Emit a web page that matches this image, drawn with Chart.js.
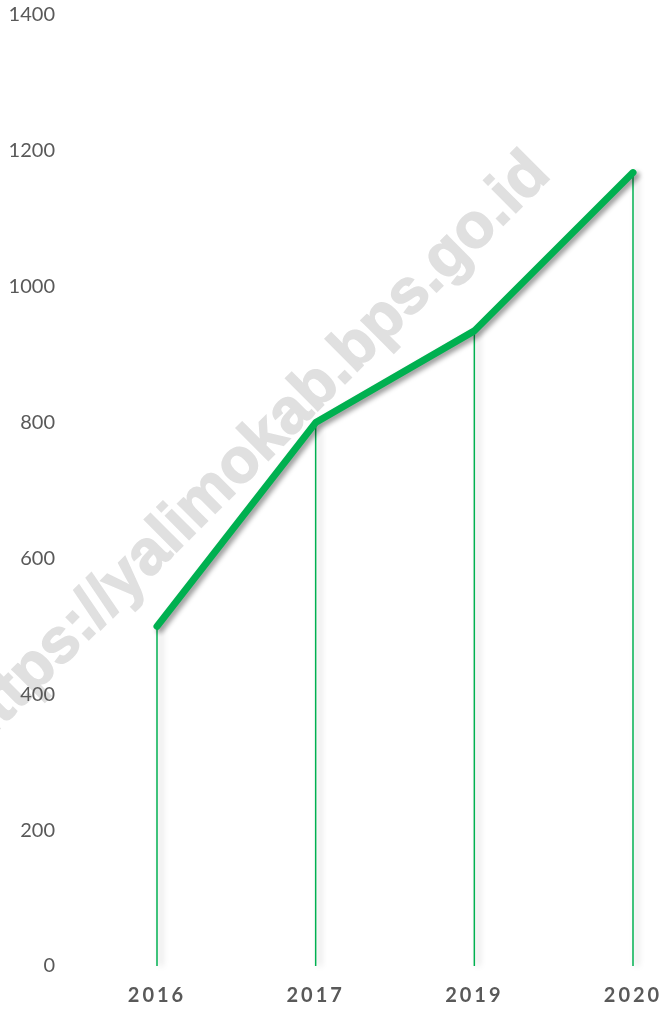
<!DOCTYPE html>
<html>
<head>
<meta charset="utf-8">
<script src="https://cdn.jsdelivr.net/npm/chart.js@4"></script>
<style>
  html, body { margin: 0; padding: 0; background: #fff; overflow: hidden; }
  canvas { display: block; }
</style>
</head>
<body>
<canvas id="chart" width="662" height="1009"></canvas>
<script>
    const years = ['2016', '2017', '2019', '2020'];
    const values = [500, 800, 935, 1168];
    const yTicks = [0, 200, 400, 600, 800, 1000, 1200, 1400];
    const watermark = 'https://yalimokab.bps.go.id';

    const green = '#00B050';
    const grey = '#595959';

    // faint rotated site stamp, under everything
    const watermarkPlugin = {
      id: 'watermark',
      beforeDraw(chart) {
        const ctx = chart.ctx;
        ctx.save();
        ctx.translate(540, 164);
        ctx.rotate(-Math.PI / 4);
        ctx.font = 'bold 63px "Liberation Sans", Arial, sans-serif';
        ctx.fillStyle = '#e0e0e0';
        ctx.strokeStyle = '#e0e0e0';
        ctx.lineWidth = 1.5;
        ctx.textAlign = 'right';
        ctx.textBaseline = 'middle';
        ctx.fillText(watermark, 0, 0);
        ctx.strokeText(watermark, 0, 0);
        ctx.restore();
      }
    };

    // thin drop lines from each point down to the x axis
    const dropLines = {
      id: 'dropLines',
      beforeDatasetsDraw(chart) {
        const ctx = chart.ctx;
        const bottom = chart.scales.y.getPixelForValue(0);
        ctx.save();
        ctx.strokeStyle = green;
        ctx.lineWidth = 1.5;
        ctx.shadowColor = 'rgba(0,0,0,0.28)';
        ctx.shadowBlur = 6;
        ctx.shadowOffsetX = 4;
        ctx.shadowOffsetY = 0;
        chart.getDatasetMeta(0).data.forEach(pt => {
          ctx.beginPath();
          ctx.moveTo(pt.x, pt.y);
          ctx.lineTo(pt.x, bottom);
          ctx.stroke();
        });
        ctx.restore();
      }
    };

    const lineShadow = {
      id: 'lineShadow',
      beforeDatasetDraw(chart) {
        const ctx = chart.ctx;
        ctx.save();
        ctx.shadowColor = 'rgba(0,0,0,0.4)';
        ctx.shadowBlur = 5;
        ctx.shadowOffsetX = 3;
        ctx.shadowOffsetY = 3;
      },
      afterDatasetDraw(chart) {
        chart.ctx.restore();
      }
    };

    // letter-spaced category labels
    const spacedLabels = {
      id: 'spacedLabels',
      afterLayout(chart) {
        const s = chart.scales.x;
        if (s._spaced) return;
        const orig = s.drawLabels.bind(s);
        s.drawLabels = function (area) {
          chart.ctx.save();
          chart.ctx.letterSpacing = '3px';
          orig(area);
          chart.ctx.restore();
        };
        s._spaced = true;
      }
    };

    const chart = new Chart(document.getElementById('chart'), {
      type: 'line',
      data: {
        labels: years,
        datasets: [{
          data: values,
          borderColor: green,
          borderWidth: 7,
          borderCapStyle: 'round',
          borderJoinStyle: 'round',
          pointRadius: 0,
          tension: 0,
          fill: false,
          clip: false
        }]
      },
      options: {
        responsive: false,
        maintainAspectRatio: false,
        animation: false,
        devicePixelRatio: 1,
        layout: { padding: { top: 15, right: 29, bottom: 0, left: 0 } },
        plugins: {
          legend: { display: false },
          tooltip: { enabled: false }
        },
        scales: {
          x: {
            offset: false,
            grid: { display: false, drawTicks: false },
            border: { display: false },
            ticks: {
              color: grey,
              font: { family: 'Lato, "Open Sans", sans-serif', size: 20, weight: 'bold' },
              padding: 18,
              maxRotation: 0,
              autoSkip: false
            },
            afterFit(scale) {
              scale.height = 43;
              scale.paddingLeft = 0;
              scale.paddingRight = 0;
            }
          },
          y: {
            min: 0,
            max: 1400,
            afterBuildTicks(scale) { scale.ticks = yTicks.map(v => ({ value: v })); },
            grid: { display: false, drawTicks: false },
            border: { display: false },
            ticks: {
              color: grey,
              font: { family: 'Lato, "Open Sans", sans-serif', size: 20 },
              padding: 102,
              callback: v => String(v)
            },
            afterFit(scale) {
              scale.width = 157;
              scale.paddingTop = 0;
              scale.paddingBottom = 0;
            }
          }
        }
      },
      plugins: [watermarkPlugin, dropLines, lineShadow, spacedLabels]
    });
</script>
</body>
</html>
